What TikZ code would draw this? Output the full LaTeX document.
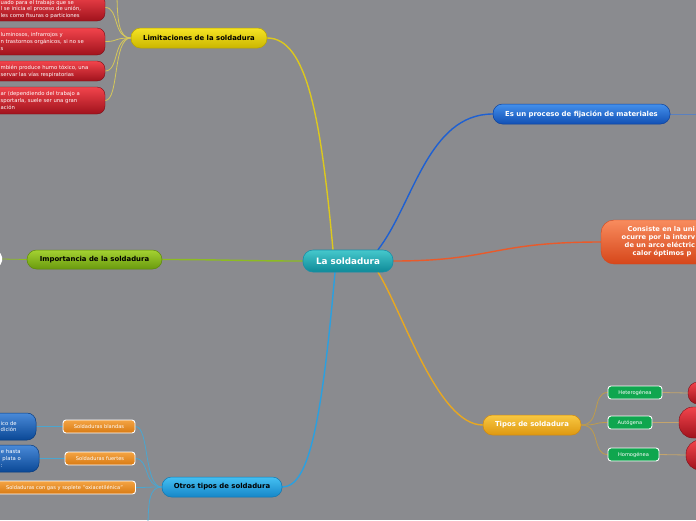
\documentclass[tikz,border=0pt]{standalone}
\usepackage{fontspec}
\setmainfont{DejaVu Sans}
\definecolor{bg}{HTML}{8A8B8F}
\definecolor{teaT}{HTML}{45C8CC}\definecolor{teaB}{HTML}{0E8A98}\definecolor{teaD}{HTML}{1A8FA8}
\definecolor{yelT}{HTML}{F6E424}\definecolor{yelB}{HTML}{CBB600}\definecolor{yelD}{HTML}{B9A500}
\definecolor{grnT}{HTML}{A4D232}\definecolor{grnB}{HTML}{6A9A0E}\definecolor{grnD}{HTML}{5E8A0C}
\definecolor{bluT}{HTML}{4490EC}\definecolor{bluB}{HTML}{1150B4}\definecolor{bluD}{HTML}{0C429E}
\definecolor{orgT}{HTML}{F88C5E}\definecolor{orgB}{HTML}{D6461A}
\definecolor{tipT}{HTML}{F8C842}\definecolor{tipB}{HTML}{DE9810}\definecolor{tipD}{HTML}{D08A10}
\definecolor{gbox}{HTML}{0FA64E}
\definecolor{obT}{HTML}{F4A444}\definecolor{obB}{HTML}{D87A12}
\definecolor{otrT}{HTML}{44C0F2}\definecolor{otrB}{HTML}{1686C8}\definecolor{otrD}{HTML}{1278B0}
\definecolor{lbT}{HTML}{4A8AD8}\definecolor{lbB}{HTML}{0A4896}\definecolor{lbD}{HTML}{083C80}
\definecolor{redT}{HTML}{F2444C}\definecolor{redM}{HTML}{D42630}\definecolor{redB}{HTML}{A0121C}\definecolor{redD}{HTML}{7C0E16}
\definecolor{cY}{HTML}{DCC81E}\definecolor{cYl}{HTML}{D6C85A}
\definecolor{cG}{HTML}{8DBB22}
\definecolor{cB}{HTML}{1E60D2}\definecolor{cBl}{HTML}{5A80C0}
\definecolor{cO}{HTML}{EA5A2A}
\definecolor{cT}{HTML}{E8A820}\definecolor{cTl}{HTML}{BE9C4C}\definecolor{cTr}{HTML}{C4A46C}
\definecolor{cC}{HTML}{2AA0E0}\definecolor{cCl}{HTML}{4AA6D0}
\pgfdeclarelayer{bgfill}\pgfdeclarelayer{links}
\pgfsetlayers{bgfill,links,main}
\tikzset{
  pill/.style={inner sep=0pt, align=center},
  mainpill/.style={pill, minimum height=20pt, rounded corners=9.5pt, font=\fontsize{6.9}{8}\selectfont\bfseries},
  smallbox/.style={pill, minimum height=13pt, rounded corners=3pt, draw=white, line width=0.9pt, text=white, font=\fontsize{5.1}{6}\selectfont},
  redbox/.style={inner sep=0pt, top color=redT, middle color=redM, bottom color=redB, draw=redD, line width=0.4pt, rounded corners=8pt},
  redtxt/.style={inner sep=0pt, anchor=west, align=left, text=white, font=\fontsize{5.3}{6.8}\selectfont},
  bluebox/.style={inner sep=0pt, top color=lbT, bottom color=lbB, draw=lbD, line width=0.5pt, rounded corners=9pt},
  link/.style={line width=1.4pt, line cap=round},
  sublink/.style={line width=0.8pt, line cap=round},
}
\begin{document}
\begin{tikzpicture}[x=1pt,y=-1pt]
\useasboundingbox (0,0) rectangle (696,520);
\begin{pgfonlayer}{bgfill}
\fill[bg] (0,0) rectangle (696,520);
\end{pgfonlayer}
\clip (0,0) rectangle (696,520);

% central
\node[pill, minimum width=90pt, minimum height=22pt, rounded corners=10pt, top color=teaT, bottom color=teaB, draw=teaD, line width=0.6pt, text=white, font=\fontsize{8.8}{10}\selectfont\bfseries] (central) at (348,261) {La soldadura};

% main branches
\node[mainpill, minimum width=136pt, top color=yelT, bottom color=yelB, draw=yelD, line width=0.5pt] (lim) at (199,38) {Limitaciones de la soldadura};
\node[mainpill, minimum width=135pt, minimum height=19pt, top color=grnT, bottom color=grnB, draw=grnD, line width=0.5pt] (imp) at (94.5,259.5) {Importancia de la soldadura};
\node[mainpill, minimum width=177pt, top color=bluT, bottom color=bluB, draw=bluD, line width=0.5pt, text=white] (esun) at (581.5,114) {Es un proceso de fijación de materiales};
\node[pill, minimum width=160pt, minimum height=44pt, rounded corners=13pt, top color=orgT, bottom color=orgB, draw=orgB, line width=0.4pt] (consiste) at (681,242) {};
\node[inner sep=0pt, anchor=west, align=left, text=white, font=\fontsize{6.7}{8.2}\selectfont\bfseries] (constxt) at (621.5,241.5) {\hspace*{6pt}Consiste en la uni\\ocurre por la interv\\\hspace*{3pt}de un arco eléctric\\\hspace*{11pt}calor óptimos p};
\node[mainpill, minimum width=98pt, top color=tipT, bottom color=tipB, draw=tipD, line width=0.5pt, text=white] (tipos) at (532,425) {Tipos de soldadura};
\node[mainpill, minimum width=120pt, top color=otrT, bottom color=otrB, draw=otrD, line width=0.5pt] (otros) at (222,487) {Otros tipos de soldadura};

% limitaciones children
\node[redbox, minimum width=150pt, minimum height=27pt] (rb1) at (30,7.5) {};
\node[redtxt] (rb1t) at (0.5,9.5) {uado para el trabajo que se\\l se inicia el proceso de unión,\\les como fisuras o particiones};
\node[redbox, minimum width=150pt, minimum height=27pt] (rb2) at (30,41.5) {};
\node[redtxt] (rb2t) at (0.5,41.5) {luminosos, infrarrojos y\\n trastornos orgánicos, si no se\\s};
\node[redbox, minimum width=150pt, minimum height=20pt] (rb3) at (30,71) {};
\node[redtxt] (rb3t) at (0.5,71.5) {mbién produce humo tóxico, una\\servar las vías respiratorias};
\node[redbox, minimum width=150pt, minimum height=27pt] (rb4) at (30,100.5) {};
\node[redtxt] (rb4t) at (0.5,100.5) {ar (dependiendo del trabajo a\\sportarla, suele ser una gran\\ación};
\coordinate (limtop) at (117,-10);

% importancia child (off-canvas)
\node[pill, minimum width=60pt, minimum height=14pt, rounded corners=5pt, fill=white] (impl) at (-28,259) {};
\coordinate (esr) at (720,114);

% tipos children
\node[smallbox, minimum width=54pt, fill=gbox] (het) at (635,392.5) {Heterogénea};
\node[smallbox, minimum width=44pt, fill=gbox] (aut) at (630,422.5) {Autógena};
\node[smallbox, minimum width=51pt, fill=gbox] (hom) at (633.5,454.5) {Homogénea};
\node[redbox, minimum width=50pt, minimum height=22pt, rounded corners=10pt] (r1) at (713,393) {};
\node[redbox, minimum width=60pt, minimum height=31pt, rounded corners=14pt] (r2) at (709,422.5) {};
\node[redbox, minimum width=50pt, minimum height=30pt, rounded corners=14pt] (r3) at (711,455) {};

% otros children
\node[smallbox, minimum width=72pt, top color=obT, bottom color=obB] (blandas) at (99,426.5) {Soldaduras blandas};
\node[smallbox, minimum width=70pt, top color=obT, bottom color=obB] (fuertes) at (100,458.5) {Soldaduras fuertes};
\node[smallbox, minimum width=142pt, top color=obT, bottom color=obB] (gas) at (64.5,487.5) {Soldaduras con gas y soplete "oxiacetilénica"};
\coordinate (otrosb) at (148,530);
\node[bluebox, minimum width=80pt, minimum height=27pt] (b1) at (-4,426.5) {};
\node[redtxt] (b1t) at (0.5,426.5) {ico de\\dición};
\node[bluebox, minimum width=80pt, minimum height=27pt] (b2) at (-1,458.5) {};
\node[redtxt] (b2t) at (0.8,458.5) {e hasta\\\hspace*{1.5pt}plata o\\:};

\begin{pgfonlayer}{links}
\draw[link, cY] ([xshift=-15pt]central.north) .. controls +(-12,-130) and +(40,0) .. (lim.east);
\draw[link, cB] ([xshift=30pt]central.north) .. controls +(35,-45) and +(-65,0) .. (esun.west);
\draw[link, cO] (central.east) .. controls +(100,0) and +(-110,0) .. (consiste.west);
\draw[link, cT] ([xshift=30pt]central.south) .. controls +(25,40) and +(-45,0) .. (tipos.west);
\draw[link, cC] ([xshift=-13pt]central.south) .. controls +(-14,160) and +(25,0) .. (otros.east);
\draw[link, cG] (central.west) .. controls +(-60,0) and +(60,0) .. (imp.east);
\draw[sublink, cG] (imp.west) -- (impl.east);
\draw[sublink, cBl] (esun.east) -- (esr);
\foreach \t in {rb1,rb2,rb3,rb4}
  \draw[sublink, cYl] (lim.west) .. controls +(-18,0) and +(14,0) .. (\t.east);
\draw[sublink, cYl] (lim.west) .. controls +(-12,0) and +(0,30) .. (limtop);
\foreach \t in {het,aut,hom}
  \draw[sublink, cTl] (tipos.east) .. controls +(20,0) and +(-16,0) .. (\t.west);
\draw[sublink, cTr] (het.east) -- (r1.west);
\draw[sublink, cTr] (aut.east) -- (r2.west);
\draw[sublink, cTr] (hom.east) -- (r3.west);
\foreach \t in {blandas,fuertes,gas}
  \draw[sublink, cCl] (otros.west) .. controls +(-18,0) and +(14,0) .. (\t.east);
\draw[sublink, cCl] (otros.west) .. controls +(-12,0) and +(0,-30) .. (otrosb);
\draw[sublink, cCl] (blandas.west) -- (b1.east);
\draw[sublink, cCl] (fuertes.west) -- (b2.east);
\end{pgfonlayer}
\end{tikzpicture}
\end{document}
